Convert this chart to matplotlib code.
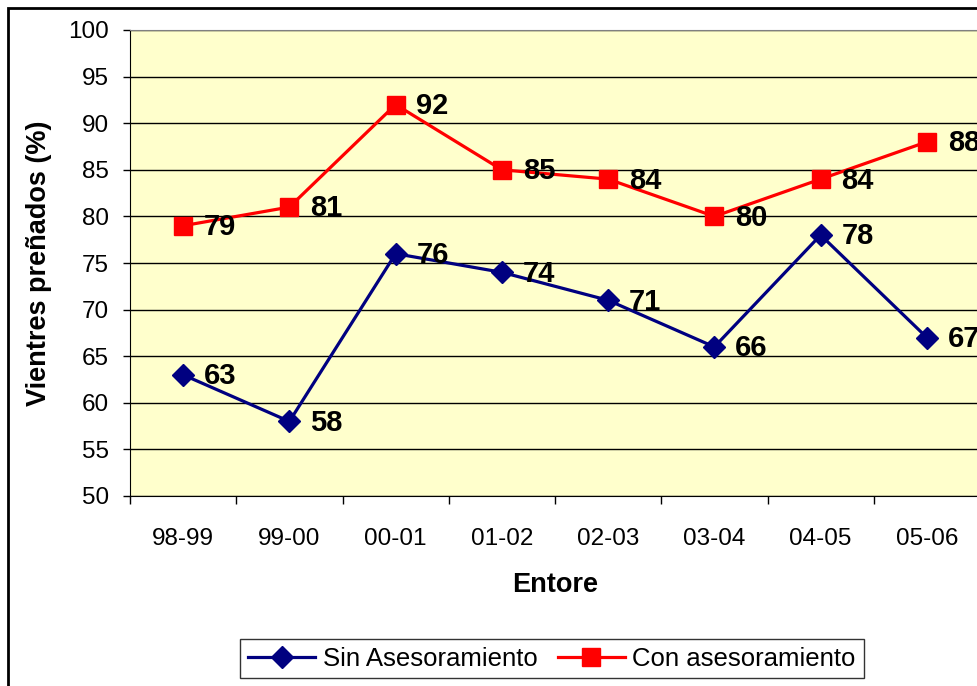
import matplotlib.pyplot as plt
from matplotlib.patches import Rectangle

plt.rcParams['font.family'] = ['Liberation Sans', 'DejaVu Sans']

# Data
entore = ['98-99', '99-00', '00-01', '01-02', '02-03', '03-04', '04-05', '05-06']
sin_ases = [63, 58, 76, 74, 71, 66, 78, 67]
con_ases = [79, 81, 92, 85, 84, 80, 84, 88]
y_ticks = [50, 55, 60, 65, 70, 75, 80, 85, 90, 95, 100]

fig = plt.figure(figsize=(9.78, 6.86), dpi=100)

# figure border (chart area is clipped on the right and bottom)
fig.patches.append(Rectangle((8 / 978, -0.1), 1.2, 1.1 - 8 / 686,
                             transform=fig.transFigure, fill=False,
                             edgecolor='black', linewidth=2))

ax = fig.add_axes([130 / 978, 1 - 496 / 686, 850 / 978, 466 / 686])
ax.set_facecolor('#FFFFCC')

x = list(range(len(entore)))

l1, = ax.plot(x, sin_ases, color='#000080', linewidth=2.3, marker='D',
              markersize=11, label='Sin Asesoramiento', clip_on=False, zorder=3)
l2, = ax.plot(x, con_ases, color='#FF0000', linewidth=2.3, marker='s',
              markersize=13, label='Con asesoramiento', clip_on=False, zorder=3)

# value labels
for xi, v in zip(x, sin_ases):
    ax.annotate(str(v), (xi, v), xytext=(15, -1), textcoords='offset points',
                fontsize=21, fontweight='bold', va='center', ha='left')
for xi, v in zip(x, con_ases):
    ax.annotate(str(v), (xi, v), xytext=(15, -1), textcoords='offset points',
                fontsize=21, fontweight='bold', va='center', ha='left',
                annotation_clip=False)

ax.set_ylim(50, 100)
ax.set_xlim(-0.5, len(entore) - 0.5)
ax.set_yticks(y_ticks)
ax.tick_params(axis='y', labelsize=17.5, length=5, width=1, direction='out', pad=10)

# category ticks between points, labels centered
ax.set_xticks([i - 0.5 for i in range(len(entore) + 1)])
ax.set_xticklabels([])
ax.set_xticks(x, minor=True)
ax.set_xticklabels(entore, minor=True)
ax.tick_params(axis='x', which='major', length=6, width=1, direction='out')
ax.tick_params(axis='x', which='minor', length=0, labelsize=17.5, pad=23)

ax.grid(axis='y', color='black', linewidth=1)
ax.set_axisbelow(True)
for s in ['left', 'bottom']:
    ax.spines[s].set_color('black')
ax.spines['top'].set_color('#808080')
ax.spines['right'].set_visible(False)

ax.set_xlabel('Entore', fontsize=19.5, fontweight='bold', labelpad=16)
ax.set_ylabel('Vientres preñados (%)', fontsize=19.5, fontweight='bold', labelpad=12)

leg = fig.legend(handles=[l1, l2], loc='center', ncol=2,
                 bbox_to_anchor=(552 / 978, 1 - 658.5 / 686), fontsize=18.5,
                 frameon=True, fancybox=False, edgecolor='black',
                 handlelength=2.6, handletextpad=0.3, columnspacing=0.8,
                 borderpad=0.3)
leg.get_frame().set_linewidth(1)

fig.savefig('out.png', dpi=100)
